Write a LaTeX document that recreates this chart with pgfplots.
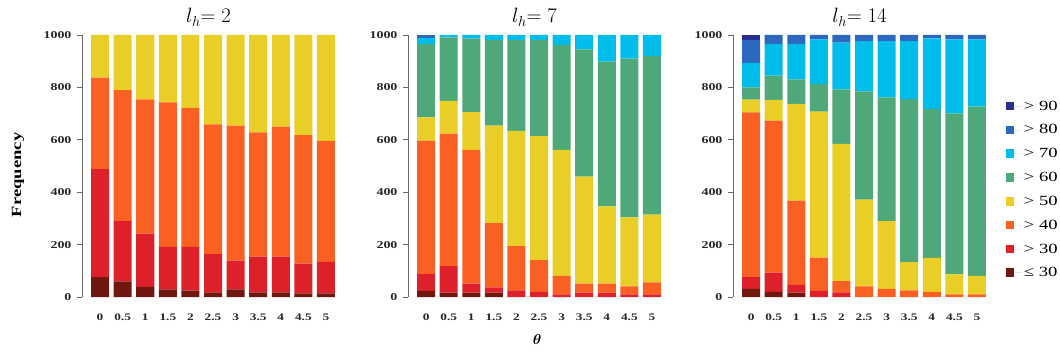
\documentclass[border=0pt]{standalone}
\usepackage{pgfplots}
\pgfplotsset{compat=1.18}
\usepackage{pgfplotstable}
\usepackage{fontspec}
\usepackage{bm}
\newfontfamily\wide[FakeStretch=1.33]{Liberation Serif}
\newfontfamily\widebf[FakeStretch=1.33]{Liberation Serif Bold}

\definecolor{cA}{RGB}{112,24,16}
\definecolor{cB}{RGB}{222,32,42}
\definecolor{cC}{RGB}{250,96,34}
\definecolor{cD}{RGB}{232,206,38}
\definecolor{cE}{RGB}{78,168,122}
\definecolor{cF}{RGB}{0,188,234}
\definecolor{cG}{RGB}{44,104,190}
\definecolor{cH}{RGB}{40,46,140}

\pgfplotstableread{
x d r o y
0 76 412 349 163
1 60 230 500 210
2 39 203 512 246
3 29 162 552 257
4 24 167 531 278
5 18 146 495 341
6 29 110 515 346
7 18 136 474 372
8 18 136 496 350
9 14 113 491 382
10 14 120 462 404
}\tabA

\pgfplotstableread{
x d r o y g c b
0 23 65 509 89 279 23 12
1 17 101 506 125 242 9 0
2 17 34 511 144 280 14 0
3 17 20 245 372 327 19 0
4 0 25 169 440 347 19 0
5 0 20 121 473 367 19 0
6 0 10 71 481 399 39 0
7 0 17 34 408 486 55 0
8 0 17 34 295 552 102 0
9 0 10 31 263 606 90 0
10 0 10 46 258 606 80 0
}\tabB

\pgfplotstableread{
x d r o y g c b n
0 31 45 629 48 47 94 87 19
1 20 73 580 79 93 121 34 0
2 17 29 322 369 94 135 34 0
3 0 23 127 558 105 170 17 0
4 0 18 43 523 208 179 29 0
5 0 0 41 331 413 192 23 0
6 0 0 31 259 472 215 23 0
7 0 0 25 108 622 222 23 0
8 0 0 20 129 569 269 13 0
9 0 0 10 76 615 282 17 0
10 0 0 10 71 646 256 17 0
}\tabC

\pgfplotsset{
 panel/.style={
  scale only axis, width=253pt, height=262pt,
  xmin=-0.8, xmax=10.4, ymin=0, ymax=1000,
  ybar stacked, bar width=18pt,
  axis y line*=left, axis x line*=bottom,
  x axis line style={draw=none},
  y axis line style={draw=black!60, line width=0.8pt},
  xtick={0,...,10}, xticklabels={0,0.5,1,1.5,2,2.5,3,3.5,4,4.5,5},
  xtick style={draw=none},
  ytick={0,200,400,600,800,1000}, yticklabels={0,200,400,600,800,1000},
  ytick style={draw=black!60, line width=0.8pt},
  tick align=outside, major tick length=5pt,
  xticklabel style={font=\widebf\fontsize{10}{11}\selectfont, text=black!85, yshift=-8pt},
  yticklabel style={font=\widebf\fontsize{10.5}{11}\selectfont, text=black!85, xshift=-2pt},
  title style={font=\fontsize{22}{24}\selectfont, anchor=base, at={(0.5,1)}, yshift=6pt},
 }
}

\begin{document}
\begin{tikzpicture}
\useasboundingbox (0,0) rectangle (1060pt,354pt);

\begin{axis}[panel, at={(82pt,57pt)}, anchor=south west,
  title={$l_h{=}\;2$},
  ylabel={Frequency},
  ylabel style={font=\widebf\fontsize{14}{16}\selectfont, at={(axis description cs:-0.253,0.466)}, anchor=center}]
\addplot[fill=cA, draw=none] table[x=x,y=d]{\tabA};
\addplot[fill=cB, draw=none] table[x=x,y=r]{\tabA};
\addplot[fill=cC, draw=none] table[x=x,y=o]{\tabA};
\addplot[fill=cD, draw=none] table[x=x,y=y]{\tabA};
\end{axis}

\begin{axis}[panel, at={(408pt,57pt)}, anchor=south west,
  title={$l_h{=}\;7$},
  xlabel={$\bm{\theta}$},
  xlabel style={font=\fontsize{15}{16}\selectfont, at={(axis description cs:0.51,-0.164)}, anchor=center}]
\addplot[fill=cA, draw=none] table[x=x,y=d]{\tabB};
\addplot[fill=cB, draw=none] table[x=x,y=r]{\tabB};
\addplot[fill=cC, draw=none] table[x=x,y=o]{\tabB};
\addplot[fill=cD, draw=none] table[x=x,y=y]{\tabB};
\addplot[fill=cE, draw=none] table[x=x,y=g]{\tabB};
\addplot[fill=cF, draw=none] table[x=x,y=c]{\tabB};
\addplot[fill=cG, draw=none] table[x=x,y=b]{\tabB};
\end{axis}

\begin{axis}[panel, at={(733pt,57pt)}, anchor=south west,
  title={$l_h{=}\;14$},
  legend style={at={(axis description cs:1.078,0.757)}, anchor=north west, draw=none, fill=none, inner sep=0pt, row sep=9pt, font=\wide\fontsize{14}{15}\selectfont},
  legend cell align=left,
  legend image code/.code={\fill[#1] (0pt,-4pt) rectangle (8.5pt,4.5pt); \path (0pt,0pt) -- (16pt,0pt);},
  reverse legend]
\addplot[fill=cA, draw=none] table[x=x,y=d]{\tabC};
\addlegendentry{≤ 30}
\addplot[fill=cB, draw=none] table[x=x,y=r]{\tabC};
\addlegendentry{> 30}
\addplot[fill=cC, draw=none] table[x=x,y=o]{\tabC};
\addlegendentry{> 40}
\addplot[fill=cD, draw=none] table[x=x,y=y]{\tabC};
\addlegendentry{> 50}
\addplot[fill=cE, draw=none] table[x=x,y=g]{\tabC};
\addlegendentry{> 60}
\addplot[fill=cF, draw=none] table[x=x,y=c]{\tabC};
\addlegendentry{> 70}
\addplot[fill=cG, draw=none] table[x=x,y=b]{\tabC};
\addlegendentry{> 80}
\addplot[fill=cH, draw=none] table[x=x,y=n]{\tabC};
\addlegendentry{> 90}
\node[anchor=west, font=\fontsize{14}{15}\selectfont] at (axis description cs:1.06,0.897) {$\bm{\omega}_{\mathbf{u}_{\mathbf{ARTC}}}$};
\end{axis}
\end{tikzpicture}
\end{document}
